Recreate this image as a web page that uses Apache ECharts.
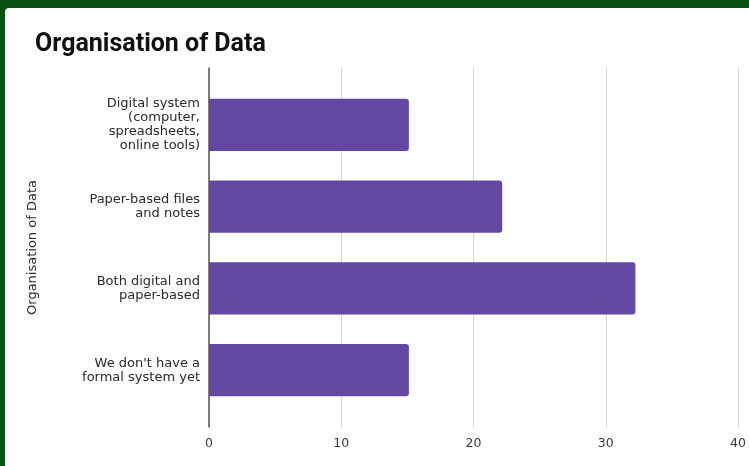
<!DOCTYPE html>
<html>
<head>
<meta charset="utf-8">
<title>Organisation of Data</title>
<script src="https://cdn.jsdelivr.net/npm/echarts@6/dist/echarts.min.js"></script>
<style>
  html, body { margin: 0; padding: 0; width: 749px; height: 466px; overflow: hidden; background: #0b5212; }
  #chart { position: absolute; left: 5px; top: 8px; width: 744px; height: 458px; background: #ffffff; border-top-left-radius: 4px; }
</style>
</head>
<body>
<div id="chart"></div>
<script>
// How respondents organise their data
const chartTitle = 'Organisation of Data';
const axisName = 'Organisation of Data';
const categories = [
  'Digital system\n(computer,\nspreadsheets,\nonline tools)',
  'Paper-based files\nand notes',
  'Both digital and\npaper-based',
  "We don't have a\nformal system yet"
];
const counts = [15, 22, 32, 15];
const xTicks = [0, 10, 20, 30, 40];

const labelFont = 'DejaVu Sans, Arial, sans-serif';
const chart = echarts.init(document.getElementById('chart'), null, { renderer: 'canvas' });

chart.setOption({
  backgroundColor: 'transparent',
  animation: false,
  title: {
    text: chartTitle,
    left: 30,
    top: 24,
    padding: 0,
    textStyle: { fontFamily: 'Roboto', fontWeight: 'bold', fontSize: 25, color: '#111111' }
  },
  grid: [
    // frame for gridlines and the vertical axis line
    { left: 204, right: 7, top: 60, bottom: 39, containLabel: false },
    // bars
    { left: 204, right: 7, top: 76, bottom: 55, containLabel: false }
  ],
  xAxis: [
    {
      gridIndex: 0, type: 'value',
      min: xTicks[0], max: xTicks[xTicks.length - 1], interval: 10,
      axisLine: { show: false }, axisTick: { show: false },
      axisLabel: { color: '#3a3a3a', fontSize: 12.5, fontFamily: labelFont, margin: 10 },
      splitLine: { show: true, lineStyle: { color: '#d6d6d6', width: 1 } }
    },
    {
      gridIndex: 1, type: 'value',
      min: xTicks[0], max: xTicks[xTicks.length - 1], interval: 10,
      show: false
    }
  ],
  yAxis: [
    {
      gridIndex: 0, type: 'value', min: 0, max: 1,
      axisLine: { show: true, lineStyle: { color: '#555555', width: 1.5 } },
      axisTick: { show: false }, axisLabel: { show: false }, splitLine: { show: false }
    },
    {
      gridIndex: 1, type: 'category', inverse: true,
      data: categories,
      axisLine: { show: false }, axisTick: { show: false },
      axisLabel: {
        color: '#2a2a2a', fontSize: 13, fontFamily: labelFont,
        lineHeight: 14, align: 'right', margin: 9
      },
      name: axisName,
      nameLocation: 'middle',
      nameRotate: 90,
      nameGap: 170,
      nameTextStyle: { color: '#2a2a2a', fontSize: 13, fontFamily: labelFont }
    }
  ],
  series: [
    {
      type: 'bar',
      xAxisIndex: 1, yAxisIndex: 1,
      data: counts,
      barCategoryGap: '36%',
      itemStyle: { color: '#6447a3', borderRadius: [0, 3, 3, 0] }
    }
  ]
});
</script>
</body>
</html>
